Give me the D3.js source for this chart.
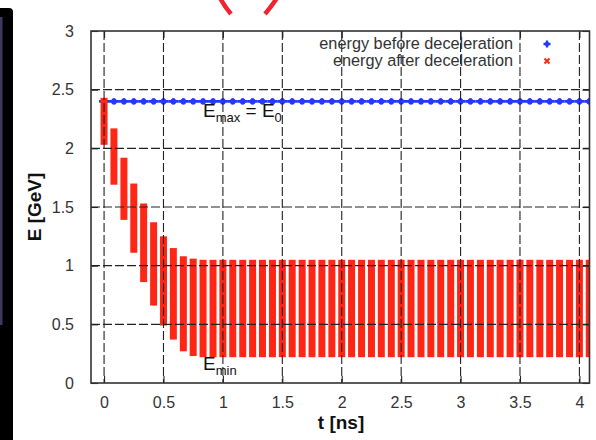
<!DOCTYPE html>
<html>
<head>
<meta charset="utf-8">
<script src="https://cdn.jsdelivr.net/npm/d3@7"></script>
<style>
  html, body { margin: 0; padding: 0; background: #fff; }
  svg { display: block; font-family: "Liberation Sans", Arial, Helvetica, sans-serif; }
</style>
</head>
<body>
<svg id="chart" width="596" height="440"></svg>
<script>
// Tick values of both axes
const xTicks = [0, 0.5, 1, 1.5, 2, 2.5, 3, 3.5, 4];
const yTicks = [0, 0.5, 1, 1.5, 2, 2.5, 3];

// Bunch arrival times [ns] (12 GHz bunch train)
const bunchTimes = [
  0.000, 0.083, 0.167, 0.250, 0.333, 0.417, 0.500, 0.583, 0.667, 0.750,
  0.833, 0.917, 1.000, 1.083, 1.167, 1.250, 1.333, 1.417, 1.500, 1.583,
  1.667, 1.750, 1.833, 1.917, 2.000, 2.083, 2.167, 2.250, 2.333, 2.417,
  2.500, 2.583, 2.667, 2.750, 2.833, 2.917, 3.000, 3.083, 3.167, 3.250,
  3.333, 3.417, 3.500, 3.583, 3.667, 3.750, 3.833, 3.917, 4.000, 4.083
];

// Energy before deceleration [GeV]
const energyBefore = [
  2.4, 2.4, 2.4, 2.4, 2.4, 2.4, 2.4, 2.4, 2.4, 2.4,
  2.4, 2.4, 2.4, 2.4, 2.4, 2.4, 2.4, 2.4, 2.4, 2.4,
  2.4, 2.4, 2.4, 2.4, 2.4, 2.4, 2.4, 2.4, 2.4, 2.4,
  2.4, 2.4, 2.4, 2.4, 2.4, 2.4, 2.4, 2.4, 2.4, 2.4,
  2.4, 2.4, 2.4, 2.4, 2.4, 2.4, 2.4, 2.4, 2.4, 2.4
];

// Energy spread after deceleration [GeV]: highest and lowest particle energy per bunch
const energyAfterMax = [
  2.43, 2.17, 1.92, 1.70, 1.53, 1.37, 1.25, 1.15, 1.08, 1.06,
  1.05, 1.05, 1.05, 1.05, 1.05, 1.05, 1.05, 1.05, 1.05, 1.05,
  1.05, 1.05, 1.05, 1.05, 1.05, 1.05, 1.05, 1.05, 1.05, 1.05,
  1.05, 1.05, 1.05, 1.05, 1.05, 1.05, 1.05, 1.05, 1.05, 1.05,
  1.05, 1.05, 1.05, 1.05, 1.05, 1.05, 1.05, 1.05, 1.05, 1.05
];
const energyAfterMin = [
  2.03, 1.69, 1.39, 1.11, 0.86, 0.66, 0.49, 0.37, 0.27, 0.23,
  0.22, 0.22, 0.22, 0.22, 0.22, 0.22, 0.22, 0.22, 0.22, 0.22,
  0.22, 0.22, 0.22, 0.22, 0.22, 0.22, 0.22, 0.22, 0.22, 0.22,
  0.22, 0.22, 0.22, 0.22, 0.22, 0.22, 0.22, 0.22, 0.22, 0.22,
  0.22, 0.22, 0.22, 0.22, 0.22, 0.22, 0.22, 0.22, 0.22, 0.22
];

const legendLabels = ["energy before deceleration", "energy after deceleration"];

const svg = d3.select("#chart");
const plot = { left: 91, right: 589.5, top: 31, bottom: 383 };

const x = d3.scaleLinear().domain([-0.11, 4.085]).range([plot.left, plot.right]);
const y = d3.scaleLinear().domain([0, 3]).range([plot.bottom, plot.top]);

const RED = "#ff2616";
const BLUE = "#2438ff";
const INK = "#222";

// slide decoration: dark side bar and a red stroke at the top edge
svg.append("path")
  .attr("d", "M0,8 H9 Q13,8 13,12 V440 H0 Z")
  .attr("fill", "#000");
svg.append("rect").attr("x", 0).attr("y", 17).attr("width", 2.5).attr("height", 308)
  .attr("fill", "#3c3a60");
svg.append("path").attr("d", "M220,-2 Q225,7 231,14")
  .attr("fill", "none").attr("stroke", "#ee2430").attr("stroke-width", 4.5);
svg.append("path").attr("d", "M277,-2 Q271,7 265,14")
  .attr("fill", "none").attr("stroke", "#ee2430").attr("stroke-width", 4.5);

svg.append("defs").append("clipPath").attr("id", "plotclip")
  .append("rect")
  .attr("x", plot.left).attr("y", plot.top)
  .attr("width", plot.right - plot.left).attr("height", plot.bottom - plot.top);

// data layer
const data = svg.append("g").attr("clip-path", "url(#plotclip)");

// energy before deceleration: "+" markers
const before = data.append("g");
bunchTimes.forEach((t, i) => {
  const cx = x(t), cy = y(energyBefore[i]);
  before.append("path")
    .attr("d", `M${cx - 5},${cy}H${cx + 5}M${cx},${cy - 3.2}V${cy + 3.2}`)
    .attr("stroke", BLUE).attr("stroke-width", 2.6).attr("fill", "none");
  before.append("circle").attr("cx", cx).attr("cy", cy).attr("r", 2.9).attr("fill", BLUE);
});

// energy after deceleration: each bunch spans a column of "x" markers
const after = data.append("g");
bunchTimes.forEach((t, i) => {
  const top = y(energyAfterMax[i]), bot = y(energyAfterMin[i]);
  after.append("rect")
    .attr("x", x(t) - 3.5).attr("width", 7)
    .attr("y", top).attr("height", bot - top)
    .attr("fill", RED);
});

// grid
const grid = svg.append("g").attr("stroke", INK).attr("stroke-width", 1.1)
  .attr("stroke-dasharray", "9,3");
grid.selectAll("line.v").data(xTicks).join("line")
  .attr("x1", d => x(d)).attr("x2", d => x(d))
  .attr("y1", plot.top).attr("y2", plot.bottom);
grid.selectAll("line.h").data(yTicks.filter(d => d > 0 && d < 3)).join("line")
  .attr("x1", plot.left).attr("x2", plot.right)
  .attr("y1", d => y(d)).attr("y2", d => y(d));

// axes with inward ticks on all four sides
const axisBottom = d3.axisBottom(x).tickValues(xTicks).tickSize(-7).tickPadding(14)
  .tickFormat(d3.format("~g"));
const axisLeft = d3.axisLeft(y).tickValues(yTicks).tickSize(-7).tickPadding(17)
  .tickFormat(d3.format("~g"));
const axisTop = d3.axisTop(x).tickValues(xTicks).tickSize(-7).tickFormat("");
const axisRight = d3.axisRight(y).tickValues(yTicks).tickSize(-7).tickFormat("");

function styleAxis(g) {
  g.select(".domain").remove();
  g.selectAll(".tick line").attr("stroke", INK).attr("stroke-width", 1.1);
  g.selectAll(".tick text").attr("fill", "#333").attr("font-size", 16)
    .attr("font-family", "'Liberation Sans', Arial, sans-serif");
}
svg.append("g").attr("transform", `translate(0,${plot.bottom})`).call(axisBottom).call(styleAxis);
svg.append("g").attr("transform", `translate(${plot.left},0)`).call(axisLeft).call(styleAxis);
svg.append("g").attr("transform", `translate(0,${plot.top})`).call(axisTop).call(styleAxis);
svg.append("g").attr("transform", `translate(${plot.right},0)`).call(axisRight).call(styleAxis);

// frame
svg.append("rect")
  .attr("x", plot.left).attr("y", plot.top)
  .attr("width", plot.right - plot.left).attr("height", plot.bottom - plot.top)
  .attr("fill", "none").attr("stroke", "#333").attr("stroke-width", 1.6);

// axis titles
svg.append("text").attr("x", 341).attr("y", 429).attr("text-anchor", "middle")
  .attr("font-size", 19).attr("font-weight", "bold").attr("fill", "#111").text("t [ns]");
svg.append("text").attr("transform", "translate(41,207) rotate(-90)")
  .attr("text-anchor", "middle").attr("font-size", 19).attr("font-weight", "bold")
  .attr("fill", "#111").text("E [GeV]");

// annotations
function subLabel(px, py, parts) {
  const t = svg.append("text").attr("x", px).attr("y", py).attr("font-size", 19).attr("fill", "#111");
  parts.forEach(p => {
    const s = t.append("tspan").text(p.text);
    if (p.sub) s.attr("font-size", 13).attr("dy", 5);
    if (p.up) s.attr("dy", -5);
  });
}
subLabel(203, 117, [{ text: "E" }, { text: "max", sub: true }, { text: " = E", up: true }, { text: "0", sub: true }]);
subLabel(203, 370, [{ text: "E" }, { text: "min", sub: true }]);

// legend
const legend = svg.append("g");
legendLabels.forEach((lab, i) => {
  legend.append("text").attr("x", 513).attr("y", 49 + i * 17).attr("text-anchor", "end")
    .attr("font-size", 16.3).attr("fill", "#333").text(lab);
});
legend.append("path").attr("d", "M543.5,44H550.5M547,40.5V47.5")
  .attr("stroke", BLUE).attr("stroke-width", 2.4);
legend.append("circle").attr("cx", 547).attr("cy", 44).attr("r", 2.2).attr("fill", BLUE);
legend.append("path").attr("d", "M544.5,58.5L549.5,63.5M549.5,58.5L544.5,63.5")
  .attr("stroke", RED).attr("stroke-width", 2);
</script>
</body>
</html>
